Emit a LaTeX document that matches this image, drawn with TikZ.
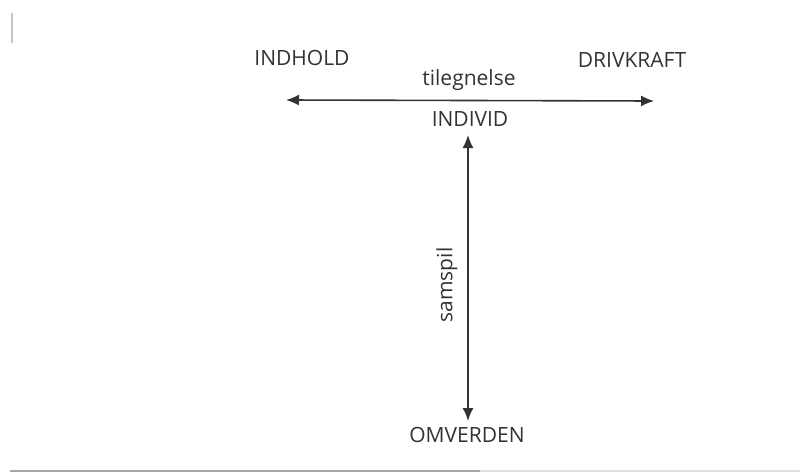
\documentclass[tikz,border=0pt]{standalone}
\usepackage{fontspec}
\setmainfont{Open Sans}
\usetikzlibrary{arrows.meta}
\begin{document}
\begin{tikzpicture}[x=1pt,y=-1pt,
  lbl/.style={font=\fontsize{21}{24}\selectfont, text=black!80, inner sep=1pt},
  conn/.style={line width=1.6pt, draw=black!80, {Latex[length=13pt,width=11pt]}-{Latex[length=13pt,width=11pt]}}]
\useasboundingbox (0,0) rectangle (810,474);
\fill[white] (0,0) rectangle (810,474);
\draw[gray!45, line width=2.5pt] (12,13) -- (12,43);
\node[lbl] (indhold) at (302,58) {INDHOLD};
\node[lbl] (drivkraft) at (632,60) {DRIVKRAFT};
\node[lbl] (tileg) at (469,80) {tilegnelse};
\node[lbl] (individ) at (470,119) {INDIVID};
\node[lbl] (omverden) at (467,435) {OMVERDEN};
\coordinate (hl) at (286,100);
\coordinate (hr) at (654,101);
\draw[conn] (hl) -- (hr);
\coordinate (vt) at (468,135);
\coordinate (vb) at (468,421);
\draw[conn] (vt) -- (vb);
\node[lbl, rotate=90] (samspil) at (447,285) {samspil};
\draw[gray!70, line width=2pt] (10,471) -- (480,471);
\draw[gray!25, line width=2pt] (480,471) -- (800,471);
\end{tikzpicture}
\end{document}
